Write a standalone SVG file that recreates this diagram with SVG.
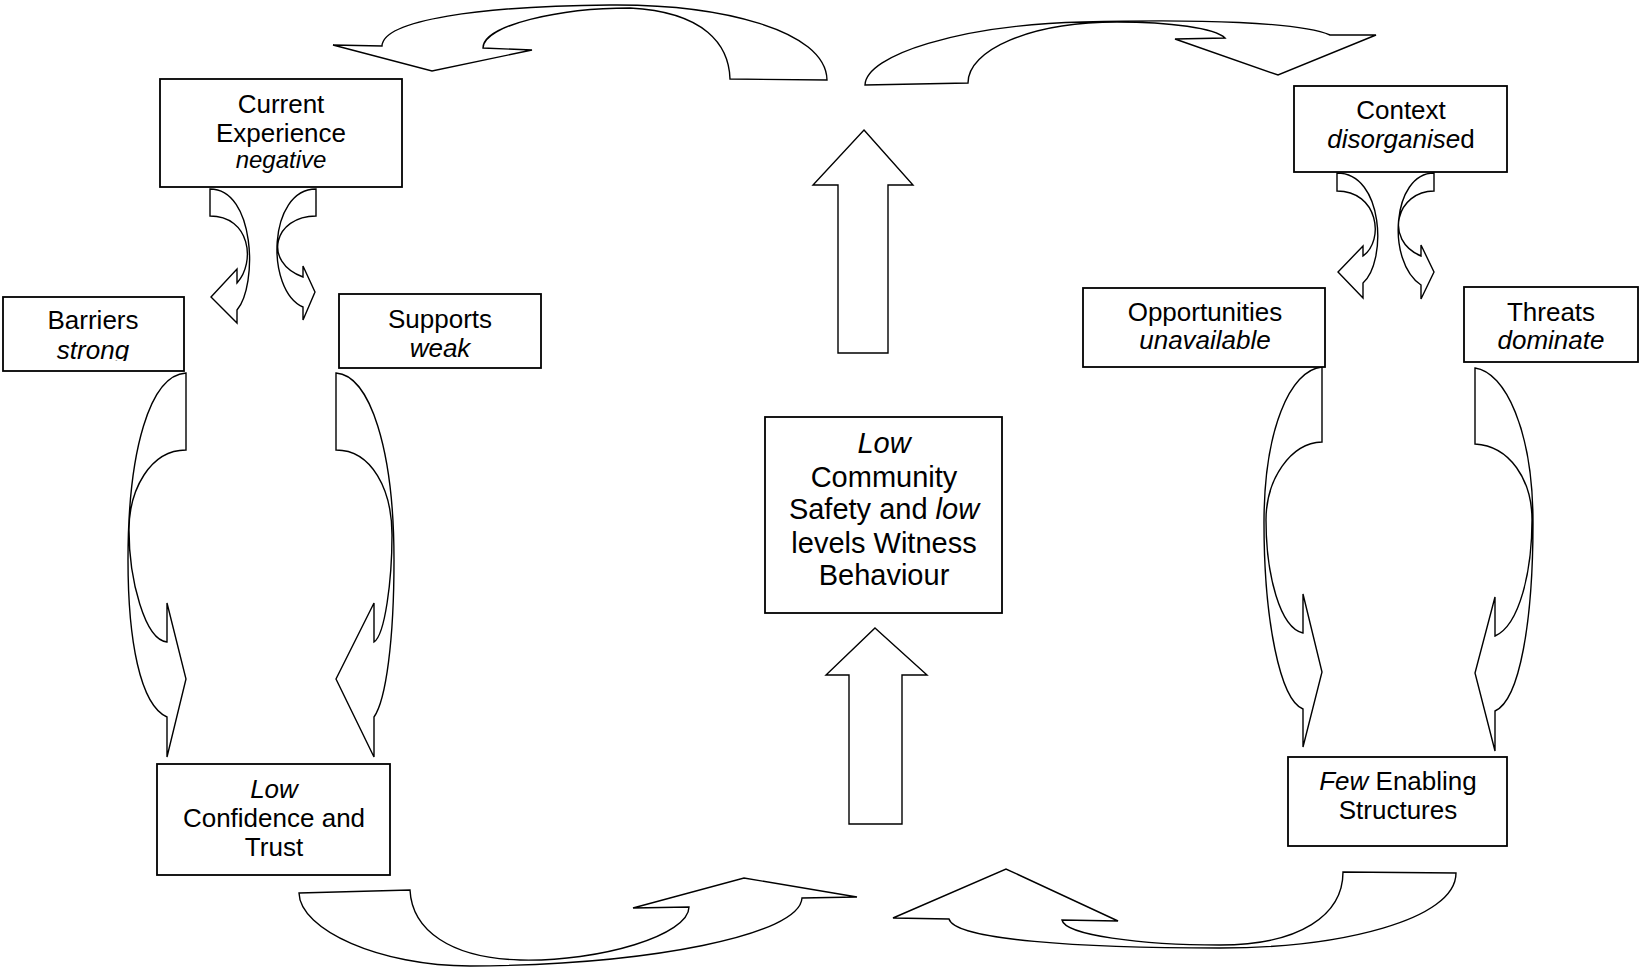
<svg xmlns="http://www.w3.org/2000/svg" width="1642" height="970" viewBox="0 0 1642 970">
<defs>
<style>
.box{fill:#fff;stroke:#000;stroke-width:1.8}
.arr{fill:#fff;stroke:#000;stroke-width:1.4;stroke-linejoin:miter}
text{font-family:'Liberation Sans',Arial,Helvetica,sans-serif;font-size:26px;fill:#000;text-anchor:middle}
.it{font-style:italic}
.big{font-size:29px}
</style>
<clipPath id="clipBarriers"><rect x="3" y="297" width="181" height="64"/></clipPath>
</defs>
<rect width="1642" height="970" fill="#fff"/>
<g id="connectors">
<path class="arr" d="M333,45 L382,46 C383,20 480,6 610,5 C720,4 826,30 827,80 L730,79 C729,45 705,12 630,8 C560,8 483,25 483,48 L532,50 L432,71 Z"/>
<path class="arr" d="M865,85 C866,55 960,25 1083,22 C1200,19 1300,22 1330,35 L1376,35 L1278,75 L1175,39 L1225,38 C1215,28 1170,22 1117,22 C1030,22 968,50 968,83 Z"/>
<path class="arr" d="M299,893 L410,890 C412,930 450,958 520,960 C600,962 689,935 689,907 L633,908 L744,878 L857,897 L802,898 C800,935 650,965 470,966 C380,966 300,930 299,893 Z"/>
<path class="arr" d="M1343,872 L1456,873 C1456,920 1340,948 1220,948 C1080,948 955,940 949,919 L893,918 L1006,869 L1118,921 L1062,920 C1065,935 1140,945 1220,945 C1300,945 1343,915 1343,872 Z"/>
<path class="arr" d="M186,373 L186,450 C150,450 129,490 129,530 C129,580 145,640 167,642 L167,603 L186,679 L167,757 L167,717 C140,705 128,640 128,560 C128,450 150,375 186,373 Z"/>
<path class="arr" d="M336,373 L336,450 C372,450 392,490 392,535 C392,580 385,635 374,642 L374,603 L336,679 L374,757 L374,717 C386,700 394,640 394,560 C394,450 370,375 336,373 Z"/>
<path class="arr" d="M1322,367 L1322,442 C1290,443 1266,480 1266,520 C1266,575 1280,628 1303,633 L1303,594 L1322,672 L1303,747 L1303,709 C1280,700 1264,620 1264,523 C1264,430 1290,370 1322,367 Z"/>
<path class="arr" d="M1475,368 L1475,444 C1510,446 1532,480 1532,520 C1532,570 1520,625 1495,636 L1495,597 L1475,673 L1495,751 L1495,711 C1520,700 1533,620 1533,523 C1533,430 1505,372 1475,368 Z"/>
<path class="arr" d="M210,189 L210,216 C250,216 256,262 237,283 L237,269 L211,297 L237,323 L237,310 C258,285 255,189 210,189 Z"/>
<path class="arr" d="M316,189 L316,216 C274,216 262,262 303,277 L303,266 L315,292 L303,320 L303,307 C265,290 268,189 316,189 Z"/>
<path class="arr" d="M1337,173 L1337,191 C1378,191 1385,240 1363,256 L1363,246 L1338,272 L1363,298 L1363,283 C1387,262 1384,173 1337,173 Z"/>
<path class="arr" d="M1434,173 L1434,191 C1397,191 1383,240 1421,256 L1421,245 L1434,272 L1421,299 L1421,285 C1386,262 1392,173 1434,173 Z"/>
<path class="arr" d="M864,130 L913,185 L888,185 L888,353 L838,353 L838,185 L813,185 Z"/>
<path class="arr" d="M875,628 L927,675 L902,675 L902,824 L849,824 L849,675 L826,675 Z"/>
</g>
<g id="current-experience">
<rect class="box" x="160" y="79" width="242" height="108"/>
<text x="281" y="113">Current</text>
<text x="281" y="142">Experience</text>
<text x="281" y="168" class="it" style="font-size:24px">negative</text>
</g>
<g id="barriers">
<rect class="box" x="3" y="297" width="181" height="74"/>
<g clip-path="url(#clipBarriers)">
<text x="93" y="329">Barriers</text>
<text x="93" y="359" class="it">strong</text>
</g>
</g>
<g id="supports">
<rect class="box" x="339" y="294" width="202" height="74"/>
<text x="440" y="328">Supports</text>
<text x="440" y="357" class="it">weak</text>
</g>
<g id="low-confidence">
<rect class="box" x="157" y="764" width="233" height="111"/>
<text x="274" y="798" class="it">Low</text>
<text x="274" y="827">Confidence and</text>
<text x="274" y="856">Trust</text>
</g>
<g id="community-safety">
<rect class="box" x="765" y="417" width="237" height="196"/>
<text x="884" y="453" class="big it">Low</text>
<text x="884" y="487" class="big">Community</text>
<text x="884" y="519" class="big">Safety and <tspan class="it">low</tspan></text>
<text x="884" y="553" class="big">levels Witness</text>
<text x="884" y="585" class="big">Behaviour</text>
</g>
<g id="context">
<rect class="box" x="1294" y="86" width="213" height="86"/>
<text x="1401" y="119">Context</text>
<text x="1401" y="148"><tspan class="it">disorganise</tspan>d</text>
</g>
<g id="opportunities">
<rect class="box" x="1083" y="288" width="242" height="79"/>
<text x="1205" y="321">Opportunities</text>
<text x="1205" y="349" class="it">unavailable</text>
</g>
<g id="threats">
<rect class="box" x="1464" y="287" width="174" height="75"/>
<text x="1551" y="321">Threats</text>
<text x="1551" y="349" class="it">dominate</text>
</g>
<g id="few-enabling">
<rect class="box" x="1288" y="757" width="219" height="89"/>
<text x="1398" y="790"><tspan class="it">Few</tspan> Enabling</text>
<text x="1398" y="819">Structures</text>
</g>
</svg>
